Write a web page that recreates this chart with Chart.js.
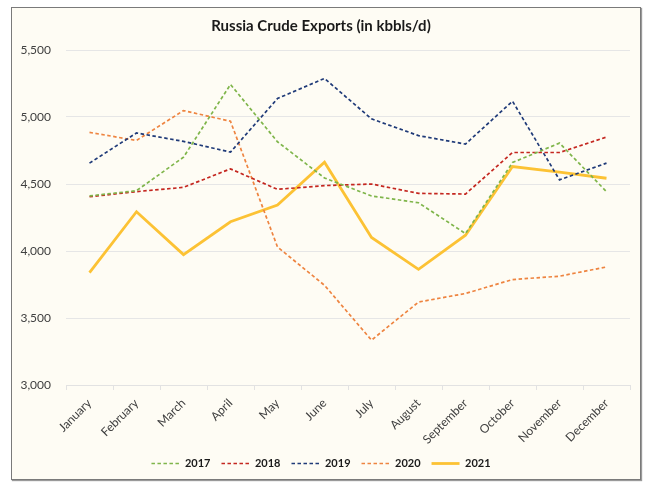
<!DOCTYPE html>
<html>
<head>
<meta charset="utf-8">
<script src="https://cdn.jsdelivr.net/npm/chart.js@4.4.0/dist/chart.umd.min.js"></script>
<style>
  html, body { margin: 0; padding: 0; background: #ffffff; }
  #box {
    position: absolute; left: 11px; top: 7px; width: 628px; height: 471px;
    border: 1px solid #7a7a7a; background: #fefcf4;
    box-shadow: 1px 1px 1px #9a9a9a;
  }
  canvas { display: block; }
</style>
</head>
<body>
<div id="box"><canvas id="c" width="628" height="471"></canvas></div>
<script>
const months = ["January","February","March","April","May","June","July","August","September","October","November","December"];
const y2017 = [4411, 4450, 4700, 5243, 4815, 4545, 4411, 4360, 4130, 4660, 4805, 4443];
const y2018 = [4405, 4443, 4475, 4613, 4460, 4488, 4500, 4430, 4425, 4735, 4735, 4850];
const y2019 = [4656, 4881, 4818, 4738, 5138, 5288, 4986, 4861, 4798, 5118, 4531, 4656];
const y2020 = [4885, 4825, 5048, 4968, 4030, 3744, 3335, 3619, 3683, 3787, 3812, 3881];
const y2021 = [3838, 4293, 3973, 4218, 4343, 4663, 4101, 3863, 4118, 4630, 4588, 4543];
const yTicks = [3000, 3500, 4000, 4500, 5000, 5500];

const FONT = "Lato, 'Open Sans', sans-serif";
const dash = [3.5, 2.5];
function ds(label, data, color, dashed) {
  return {
    label, data,
    borderColor: color, backgroundColor: color,
    borderWidth: dashed ? 1.7 : 2.8,
    borderDash: dashed ? dash : [],
    pointRadius: 0, pointHoverRadius: 0,
    tension: 0, fill: false
  };
}

new Chart(document.getElementById('c'), {
  type: 'line',
  data: {
    labels: months,
    datasets: [
      ds('2017', y2017, '#7fb54a', true),
      ds('2018', y2018, '#c4261f', true),
      ds('2019', y2019, '#1f3a78', true),
      ds('2020', y2020, '#ee8440', true),
      ds('2021', y2021, '#fcc234', false)
    ]
  },
  options: {
    responsive: false,
    animation: false,
    layout: { padding: { left: 0, right: 10, top: 0, bottom: 0 } },
    plugins: {
      title: {
        display: true,
        text: 'Russia Crude Exports (in kbbls/d)',
        color: '#1a1a1a',
        font: { family: FONT, size: 15, weight: 'bold' },
        padding: { top: 9, bottom: 15 }
      },
      legend: {
        position: 'bottom',
        labels: {
          color: '#1a1a1a',
          font: { family: FONT, size: 11, weight: 'bold' },
          usePointStyle: true,
          pointStyle: 'line',
          pointStyleWidth: 28,
          boxWidth: 28, boxHeight: 10, padding: 11,
          generateLabels(chart) {
            return chart.data.datasets.map((d, i) => ({
              text: d.label,
              fillStyle: d.borderColor,
              strokeStyle: d.borderColor,
              lineWidth: d.borderWidth,
              lineDash: d.borderDash,
              pointStyle: 'line',
              hidden: false,
              datasetIndex: i,
              fontColor: '#1a1a1a'
            }));
          }
        }
      },
      tooltip: { enabled: false }
    },
    scales: {
      x: {
        offset: true,
        grid: {
          display: true, drawOnChartArea: false, drawTicks: true,
          tickLength: 5, color: '#e2e2e2', offset: true
        },
        border: { display: true, color: '#e2e2e2', width: 1 },
        ticks: {
          color: '#404040',
          font: { family: FONT, size: 12 },
          minRotation: 45, maxRotation: 45, autoSkip: false, padding: 6
        },
        afterFit(scale) { scale.height = 62; scale.paddingLeft = 0; scale.paddingRight = 0; }
      },
      y: {
        min: 3000, max: 5500,
        afterBuildTicks(scale) { scale.ticks = yTicks.map(v => ({ value: v })); },
        grid: { color: '#e6e6e6', drawTicks: false, lineWidth: 1 },
        border: { display: false },
        ticks: {
          color: '#404040',
          font: { family: FONT, size: 12 },
          padding: 15,
          callback: v => v.toLocaleString('en-US')
        },
        afterFit(scale) { scale.width = 54; }
      }
    }
  }
});
</script>
</body>
</html>
